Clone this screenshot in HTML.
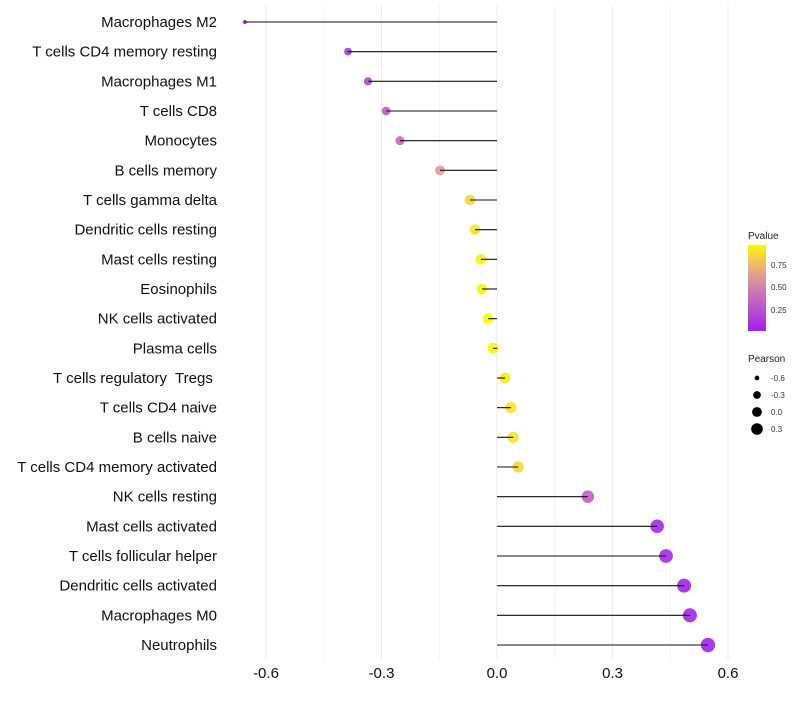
<!DOCTYPE html>
<html><head><meta charset="utf-8"><style>
body{margin:0;background:#fff;font-family:"Liberation Sans",sans-serif}
text{white-space:pre}
</style></head><body>
<svg id="chart" width="800" height="700" xmlns="http://www.w3.org/2000/svg" font-family="Liberation Sans, sans-serif"></svg>
<script>
const categories=["Macrophages M2","T cells CD4 memory resting","Macrophages M1","T cells CD8","Monocytes","B cells memory","T cells gamma delta","Dendritic cells resting","Mast cells resting","Eosinophils","NK cells activated","Plasma cells","T cells regulatory  Tregs ","T cells CD4 naive","B cells naive","T cells CD4 memory activated","NK cells resting","Mast cells activated","T cells follicular helper","Dendritic cells activated","Macrophages M0","Neutrophils"];
const pearson=[-0.655,-0.387,-0.335,-0.288,-0.252,-0.148,-0.070,-0.057,-0.042,-0.039,-0.023,-0.010,0.021,0.036,0.042,0.055,0.236,0.416,0.439,0.486,0.501,0.548];
const pvalue=[0.0,0.1,0.2,0.3,0.36,0.62,0.85,0.9,0.95,0.95,0.97,0.97,0.92,0.9,0.9,0.85,0.32,0.05,0.05,0.02,0.02,0.01];
const xTicks=[-0.6,-0.3,0.0,0.3,0.6];
const xTickLabels=["-0.6","-0.3","0.0","0.3","0.6"];
const NS="http://www.w3.org/2000/svg",svg=document.getElementById('chart');
const x=v=>497+v*385;
const y=i=>22+i*(623/21);
const rad=v=>Math.sqrt(Math.max(1.5,30+38.8*v));
function col(p){
 const stops=[[0,[160,32,240]],[0.5,[208,128,176]],[0.75,[238,180,118]],[1,[255,247,0]]];
 const t=Math.min(1,p/0.97);
 for(let k=1;k<stops.length;k++){if(t<=stops[k][0]){const a=stops[k-1],b=stops[k],f=(t-a[0])/(b[0]-a[0]);
  return 'rgb('+a[1].map((c,j)=>Math.round(c+(b[1][j]-c)*f)).join(',')+')';}}
 return 'rgb(255,247,0)';
}
function el(t,a,txt){const e=document.createElementNS(NS,t);for(const k in a)e.setAttribute(k,a[k]);if(txt!=null)e.textContent=txt;svg.appendChild(e);return e;}
for(let k=0;k<xTicks.length;k++){
 let g=el('line',{x1:x(xTicks[k]),x2:x(xTicks[k]),y1:5,y2:660,stroke:'#ebebeb','stroke-width':1});
 
 
 if(k<xTicks.length-1){let m=el('line',{x1:x((xTicks[k]+xTicks[k+1])/2),x2:x((xTicks[k]+xTicks[k+1])/2),y1:5,y2:660,stroke:'#f3f3f3','stroke-width':1});
 
 }
 let t=el('text',{x:x(xTicks[k]),y:678,'text-anchor':'middle','font-size':15,fill:'#111'},xTickLabels[k]);
 
 
}
categories.forEach((c,i)=>{
 let lb=el('text',{x:217,y:y(i)+5,'text-anchor':'end','font-size':15,fill:'#111'},c);
 
 
 let d=el('circle',{cx:x(pearson[i]),cy:y(i),r:rad(pearson[i]),fill:col(pvalue[i]),'fill-opacity':0.9});
 
 
 let s=el('line',{x1:x(0),x2:x(pearson[i]),y1:y(i),y2:y(i),stroke:'#111','stroke-width':1.1});
 
 
});
let lt=el('text',{x:748,y:239,'font-size':10,fill:'#222'},'Pvalue');


const defs=el('defs',{});
const lg=document.createElementNS(NS,'linearGradient');lg.setAttribute('id','pg');lg.setAttribute('x1','0');lg.setAttribute('y1','1');lg.setAttribute('x2','0');lg.setAttribute('y2','0');
[0,0.25,0.5,0.75,1].forEach(o=>{const s=document.createElementNS(NS,'stop');s.setAttribute('offset',o);s.setAttribute('stop-color',col(o*0.97));lg.appendChild(s);});
defs.appendChild(lg);
let cb=el('rect',{x:748,y:245,width:18,height:86,fill:'url(#pg)'});


[[0.75,265],[0.50,287],[0.25,310]].forEach(([v,yy])=>{
 let t=el('text',{x:771,y:yy+3,'font-size':8,fill:'#333'},v.toFixed(2));
 
 
});
let pt=el('text',{x:748,y:362,'font-size':10,fill:'#222'},'Pearson');


[[-0.6,378,'-0.6'],[-0.3,395,'-0.3'],[0.0,412,'0.0'],[0.3,429,'0.3']].forEach(([v,yy,l])=>{
 let c=el('circle',{cx:757,cy:yy,r:rad(v)*0.9,fill:'#000'});
 
 
 let t=el('text',{x:771,y:yy+3,'font-size':8,fill:'#333'},l);
 
 
});
</script>
</body></html>
